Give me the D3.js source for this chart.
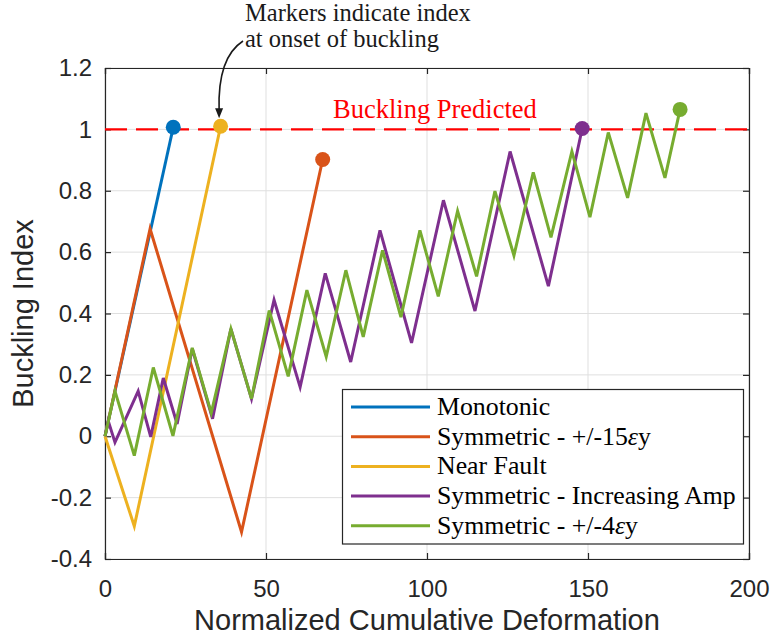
<!DOCTYPE html>
<html>
<head>
<meta charset="utf-8">
<script src="https://cdn.jsdelivr.net/npm/d3@7"></script>
<style>
  body { margin: 0; background: #fff; }
  svg { display: block; }
</style>
</head>
<body>
<div id="chart"></div>
<script>
// buckling index vs normalized cumulative deformation
var xTicks = [0, 50, 100, 150, 200];
var yTicks = [-0.4, -0.2, 0, 0.2, 0.4, 0.6, 0.8, 1, 1.2];

var seriesNames = ["Monotonic", "Symmetric - +/-15\u03b5y", "Near Fault",
                   "Symmetric - Increasing Amp", "Symmetric - +/-4\u03b5y"];
var seriesColors = ["#0072BD", "#D95319", "#EDB120", "#7E2F8E", "#77AC30"];

var monoX = [0, 21.2];
var monoY = [0, 1.007];

var sym15X = [0, 14, 42.4, 67.6];
var sym15Y = [0, 0.676, -0.312, 0.902];

var nearX = [0, 9.1, 35.9];
var nearY = [0, -0.293, 1.01];

var incX = [0, 1, 3.1, 10.3, 14.2, 18.1, 22.4, 27.1, 33.4, 39.1, 45.5, 52.5, 60.6,
            68.4, 76.3, 85.4, 95.2, 105.1, 114.9, 125.8, 137.7, 148.2];
var incY = [0, 0.05, -0.02, 0.147, -0.002, 0.19, 0.04, 0.285, 0.057, 0.35, 0.122, 0.444, 0.16,
            0.531, 0.242, 0.671, 0.304, 0.769, 0.408, 0.928, 0.489, 1.003];

var sym4X = [0, 3.1, 9.1, 15, 21.1, 27.1, 33, 39.1, 45.5, 51, 56.9, 62.7, 68.7, 74.8,
             80.2, 86.2, 91.9, 97.8, 103.5, 109.5, 115.4, 121.1, 127, 133, 138.5, 145,
             150.6, 156.3, 162.3, 168, 173.9, 178.6];
var sym4Y = [0, 0.147, -0.063, 0.224, 0.001, 0.288, 0.076, 0.35, 0.122, 0.41, 0.195, 0.476, 0.259, 0.541,
             0.324, 0.606, 0.388, 0.671, 0.456, 0.734, 0.521, 0.799, 0.589, 0.86, 0.648, 0.928,
             0.714, 0.99, 0.777, 1.053, 0.842, 1.065];

var threshold = 1;

var allX = [monoX, sym15X, nearX, incX, sym4X];
var allY = [monoY, sym15Y, nearY, incY, sym4Y];

var width = 770, height = 640;
var plotL = 105, plotR = 749, plotT = 68, plotB = 559;
var axisCol = "#262626", gridCol = "#dfdfdf";
var sans = "'Liberation Sans', Arial, sans-serif";
var serif = "'Liberation Serif', 'Times New Roman', serif";

var svg = d3.select("#chart").append("svg").attr("width", width).attr("height", height);

var x = d3.scaleLinear().domain([0, 200]).range([plotL, plotR]);
var y = d3.scaleLinear().domain([-0.4, 1.2]).range([plotB, plotT]);

// grid
var grid = svg.append("g").attr("class", "grid");
grid.selectAll(".gx").data(xTicks).enter().append("line")
    .attr("x1", function (d) { return x(d); }).attr("x2", function (d) { return x(d); })
    .attr("y1", plotT).attr("y2", plotB)
    .style("stroke", gridCol).style("stroke-width", 1);
grid.selectAll(".gy").data(yTicks).enter().append("line")
    .attr("x1", plotL).attr("x2", plotR)
    .attr("y1", function (d) { return y(d); }).attr("y2", function (d) { return y(d); })
    .style("stroke", gridCol).style("stroke-width", 1);

var fmt = function (d) { return String(+d.toFixed(1)); };

// axes (ticks pointing inward, box on)
var gx = svg.append("g").attr("transform", "translate(0," + plotB + ")")
    .call(d3.axisBottom(x).tickValues(xTicks).tickFormat(fmt).tickSize(-6).tickPadding(21));
var gy = svg.append("g").attr("transform", "translate(" + plotL + ",0)")
    .call(d3.axisLeft(y).tickValues(yTicks).tickFormat(fmt).tickSize(-6).tickPadding(13));
var gx2 = svg.append("g").attr("transform", "translate(0," + plotT + ")")
    .call(d3.axisTop(x).tickValues(xTicks).tickFormat("").tickSize(-6));
var gy2 = svg.append("g").attr("transform", "translate(" + plotR + ",0)")
    .call(d3.axisRight(y).tickValues(yTicks).tickFormat("").tickSize(-6));

[gx, gy, gx2, gy2].forEach(function (g) {
    g.selectAll("path, line").style("stroke", axisCol).style("stroke-width", 1.2);
    g.selectAll("text").style("font-family", sans).style("font-size", "24px").style("fill", axisCol);
});

// threshold line
svg.append("line")
    .attr("x1", x(0)).attr("x2", x(200))
    .attr("y1", y(threshold)).attr("y2", y(threshold))
    .style("stroke", "#ff0000").style("stroke-width", 2.2)
    .style("stroke-dasharray", "22,9");

svg.append("text")
    .attr("x", 333).attr("y", y(threshold) - 11)
    .style("font-family", serif).style("font-size", "26.5px").style("fill", "#ff0000")
    .text("Buckling Predicted");

// series lines + onset markers
var line = d3.line().x(function (d) { return x(d[0]); }).y(function (d) { return y(d[1]); });

for (var s = 0; s < allX.length; s++) {
    var pts = allX[s].map(function (v, i) { return [v, allY[s][i]]; });
    svg.append("path").datum(pts)
        .attr("d", line)
        .style("fill", "none")
        .style("stroke", seriesColors[s])
        .style("stroke-width", 3)
        .style("stroke-linejoin", "miter");
}
for (var s = 0; s < allX.length; s++) {
    var n = allX[s].length - 1;
    svg.append("circle")
        .attr("cx", x(allX[s][n])).attr("cy", y(allY[s][n])).attr("r", 7.5)
        .style("fill", seriesColors[s]);
}

// annotation with curved arrow to the near fault marker
var note = svg.append("text")
    .style("font-family", serif).style("font-size", "24.5px").style("fill", "#1a1a1a");
note.append("tspan").attr("x", 245).attr("y", 21).text("Markers indicate index");
note.append("tspan").attr("x", 245).attr("y", 47).text("at onset of buckling");

var tipX = x(nearX[nearX.length - 1]) - 1.5, tipY = y(nearY[nearY.length - 1]) - 8;
svg.append("path")
    .attr("d", "M243,41 C226,52 218,76 " + tipX + "," + (tipY - 8))
    .style("fill", "none").style("stroke", "#1a1a1a").style("stroke-width", 1.6);
svg.append("path")
    .attr("d", "M" + (tipX - 4) + "," + (tipY - 10) + " L" + (tipX + 4) + "," + (tipY - 10) + " L" + tipX + "," + tipY + " Z")
    .style("fill", "#1a1a1a");

// legend
var lg = svg.append("g");
lg.append("rect")
    .attr("x", 342.5).attr("y", 389.5).attr("width", 401).attr("height", 154.5)
    .style("fill", "#fff").style("stroke", axisCol).style("stroke-width", 1.2);

seriesNames.forEach(function (name, i) {
    var cy = 407 + i * 29.7;
    lg.append("line")
        .attr("x1", 351).attr("x2", 430).attr("y1", cy).attr("y2", cy)
        .style("stroke", seriesColors[i]).style("stroke-width", 3);
    var t = lg.append("text")
        .attr("x", 437).attr("y", cy + 8)
        .style("font-family", serif).style("font-size", "25.8px").style("fill", "#000");
    var k = name.indexOf("\u03b5");
    if (k < 0) {
        t.text(name);
    } else {
        t.append("tspan").text(name.slice(0, k));
        t.append("tspan").style("font-style", "italic").text("\u03b5");
        t.append("tspan").text(name.slice(k + 1));
    }
});

// axis titles
svg.append("text")
    .attr("x", (plotL + plotR) / 2).attr("y", 630)
    .attr("text-anchor", "middle")
    .style("font-family", sans).style("font-size", "29px").style("fill", axisCol)
    .text("Normalized Cumulative Deformation");

svg.append("text")
    .attr("transform", "translate(33," + ((plotT + plotB) / 2) + ") rotate(-90)")
    .attr("text-anchor", "middle")
    .style("font-family", sans).style("font-size", "29px").style("fill", axisCol)
    .text("Buckling Index");
</script>
</body>
</html>
